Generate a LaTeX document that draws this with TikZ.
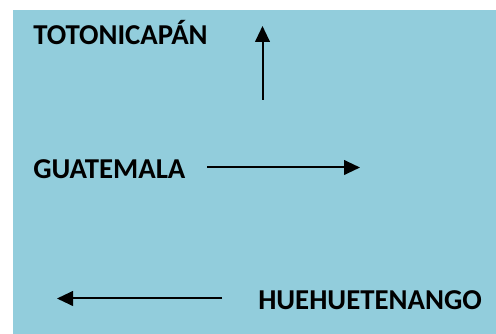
\documentclass[tikz,border=0pt]{standalone}
\usepackage{fontspec}
\setmainfont{Carlito}
\usetikzlibrary{arrows.meta}
\definecolor{bgblue}{HTML}{92CDDC}
\begin{document}
\begin{tikzpicture}[x=0.75pt,y=-0.75pt,
  label/.style={anchor=base west,inner sep=0pt,font=\fontsize{21.6}{26}\selectfont\bfseries,text=black},
  arr/.style={line width=1.5pt,-{Triangle[length=12pt,width=11pt]}}]
\useasboundingbox (0,0) rectangle (496,334);
\fill[bgblue] (13,10) rectangle (496,334);
\node[label] (toto) at (33,45) {TOTONICAPÁN};
\node[label] (guat) at (33,179) {GUATEMALA};
\node[label] (huehue) at (258,310) {HUEHUETENANGO};
\coordinate (upS) at (262.5,100);
\coordinate (upE) at (262.5,26);
\coordinate (rS) at (207,167.5);
\coordinate (rE) at (360,167.5);
\coordinate (lS) at (222,298.5);
\coordinate (lE) at (57,298.5);
\draw[arr] (upS) -- (upE);
\draw[arr] (rS) -- (rE);
\draw[arr] (lS) -- (lE);
\end{tikzpicture}
\end{document}
